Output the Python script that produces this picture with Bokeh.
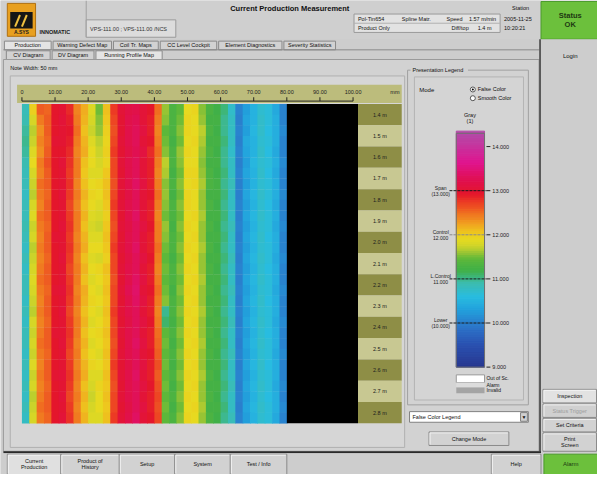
import numpy as np
from bokeh.plotting import figure
from bokeh.models import Range1d, LinearColorMapper, ColumnDataSource
from bokeh.transform import transform
from bokeh.core.properties import value
from bokeh.embed import file_html
from bokeh.resources import INLINE

FONT = "Liberation Sans"

# ---------------- data ----------------
ruler_mm = [0, 10, 20, 30, 40, 50, 60, 70, 80, 90, 100]
ruler_labels = ["0", "10.00", "20.00", "30.00", "40.00", "50.00",
                "60.00", "70.00", "80.00", "90.00", "100.00"]
row_labels = ["1.4 m", "1.5 m", "1.6 m", "1.7 m", "1.8 m", "1.9 m", "2.0 m", "2.1 m",
              "2.2 m", "2.3 m", "2.4 m", "2.5 m", "2.6 m", "2.7 m", "2.8 m"]
legend_ticks = [14, 13, 12, 11, 10, 9]
legend_tick_labels = ["14.000", "13.000", "12.000", "11.000", "10.000", "9.000"]
limit_values = [13, 12, 11, 10]
limit_labels = ["Span\n(13.000)", "Control\n12.000", "L.Control\n11.000", "Lower\n(10.000)"]
limit_colors = ["#1a1a1a", "#8a8a8a", "#1a1a1a", "#1a1a1a"]
scan_width_mm = 80.0
data_end_mm = 101.5
label_end_mm = 114.7
legend_min, legend_max = 9.0, 14.3

values = [
    [10.85,12.00,12.60,12.55,12.95,13.00,12.85,12.40,12.20,11.85,11.50,12.10,12.75,13.05,13.15,13.20,13.05,12.95,12.50,11.60,11.30,11.45,11.90,11.95,11.55,11.30,11.20,11.05,10.75,10.05,10.30,10.50,10.70,10.65,10.40,10.05],
    [10.90,11.80,12.45,12.60,12.95,13.05,12.90,12.45,12.15,11.80,11.55,12.05,12.70,13.00,13.20,13.25,13.05,12.90,12.45,11.55,11.30,11.50,11.95,11.90,11.60,11.25,11.25,11.00,10.80,10.00,10.35,10.50,10.75,10.65,10.45,10.05],
    [10.95,11.70,12.35,12.60,12.95,13.00,12.95,12.50,12.10,11.75,11.60,12.00,12.65,13.00,13.20,13.30,13.10,12.90,12.40,11.45,11.30,11.55,11.95,11.90,11.70,11.30,11.20,11.00,10.80,10.05,10.30,10.55,10.75,10.60,10.45,10.10],
    [11.00,11.75,12.40,12.55,13.00,13.00,12.90,12.45,12.15,11.85,11.70,11.95,12.70,13.05,13.20,13.30,13.05,12.95,12.45,11.50,11.25,11.50,11.90,11.95,11.65,11.25,11.25,11.05,10.80,10.00,10.40,10.50,10.70,10.65,10.45,10.05],
    [10.95,11.85,12.35,12.60,12.95,12.95,12.85,12.40,12.20,11.90,11.75,12.00,12.75,13.00,13.15,13.25,13.10,12.85,12.50,11.55,11.30,11.60,11.95,11.90,11.60,11.30,11.20,11.00,10.75,10.05,10.35,10.50,10.75,10.60,10.40,10.05],
    [10.90,11.90,12.45,12.65,12.95,13.05,12.80,12.45,12.10,11.90,11.80,11.95,12.70,13.05,13.20,13.30,13.05,12.90,12.45,11.70,11.30,11.55,11.90,11.90,11.55,11.25,11.25,11.00,10.80,10.00,10.30,10.55,10.70,10.65,10.45,10.10],
    [10.85,11.80,12.40,12.60,12.95,13.00,12.75,12.45,12.05,11.85,11.85,12.05,12.70,13.00,13.20,13.30,13.05,12.90,12.40,11.65,11.25,11.50,11.95,11.95,11.60,11.30,11.20,11.05,10.80,10.05,10.35,10.50,10.75,10.60,10.40,10.05],
    [10.85,11.75,12.50,12.60,12.95,13.00,12.80,12.40,12.10,11.90,11.95,12.10,12.65,13.05,13.20,13.35,13.10,12.90,12.45,11.55,11.30,11.55,11.90,11.95,11.65,11.30,11.25,11.00,10.85,10.00,10.30,10.50,10.70,10.65,10.45,10.05],
    [10.80,11.70,12.45,12.55,12.95,13.05,12.75,12.45,12.15,11.95,11.90,12.10,12.70,13.00,13.15,13.30,13.05,12.95,12.50,11.60,11.25,11.50,11.95,11.90,11.60,11.25,11.25,11.05,10.80,10.00,10.35,10.55,10.75,10.65,10.45,10.10],
    [10.85,11.80,12.40,12.60,12.95,13.00,12.70,12.40,12.10,11.90,11.85,12.05,12.75,13.05,13.20,13.30,13.05,12.90,12.45,11.55,11.30,11.55,11.95,11.90,11.60,11.30,11.20,11.00,10.80,10.05,10.30,10.50,10.70,10.60,10.40,10.05],
    [10.85,11.85,12.50,12.60,12.95,13.00,12.75,12.45,12.15,11.85,11.80,12.00,12.70,13.00,13.20,13.35,13.05,12.90,12.40,11.50,11.30,11.50,11.90,11.95,11.65,11.25,11.25,11.05,10.80,10.00,10.35,10.55,10.75,10.65,10.45,10.05],
    [10.90,11.75,12.45,12.55,12.95,13.05,12.80,12.45,12.10,11.80,11.75,12.05,12.65,13.05,13.15,13.30,13.10,12.95,12.45,11.60,11.25,11.55,11.95,11.90,11.60,11.30,11.20,11.00,10.85,10.05,10.30,10.50,10.70,10.65,10.40,10.10],
    [10.85,11.80,12.40,12.60,13.00,13.00,12.75,12.40,12.15,11.85,11.85,12.10,12.70,13.00,13.20,13.30,13.05,12.90,12.45,11.55,11.30,11.50,11.90,11.95,11.60,11.25,11.25,11.05,10.80,10.00,10.35,10.55,10.75,10.60,10.45,10.05],
    [10.80,11.70,12.45,12.60,12.95,13.00,12.80,12.45,12.20,11.90,11.90,12.05,12.75,13.05,13.20,13.35,13.05,12.90,12.50,11.50,11.30,11.55,11.95,11.90,11.65,11.30,11.20,11.00,10.80,10.05,10.30,10.50,10.70,10.65,10.45,10.05],
    [10.85,11.75,12.40,12.55,12.95,13.05,12.75,12.40,12.10,11.85,11.80,12.00,12.70,13.00,13.15,13.30,13.10,12.95,12.45,11.45,11.25,11.50,11.90,11.95,11.60,11.25,11.25,11.05,10.85,10.00,10.35,10.55,10.75,10.65,10.40,10.10],
    [10.80,11.80,12.45,12.60,12.95,13.00,12.70,12.45,12.15,11.90,11.95,12.10,12.70,13.05,13.20,13.30,13.05,12.90,12.40,11.50,11.30,11.55,11.95,11.90,11.60,11.30,11.20,11.00,10.80,10.05,10.30,10.50,10.70,10.60,10.45,10.05],
    [10.85,11.85,12.50,12.60,12.95,13.00,12.75,12.45,12.10,11.85,11.90,12.05,12.65,13.00,13.20,13.35,13.10,12.90,12.45,11.45,11.30,11.50,11.90,11.95,11.65,11.25,11.25,11.05,10.80,10.00,10.35,10.55,10.75,10.65,10.45,10.05],
    [10.85,11.80,12.45,12.55,13.00,13.05,12.80,12.40,12.20,11.90,11.85,12.10,12.70,13.05,13.25,13.40,13.05,12.95,12.50,11.50,11.25,11.55,11.95,11.90,11.60,11.30,11.20,11.00,10.85,10.05,10.30,10.50,10.70,10.65,10.40,10.10],
    [10.80,11.75,12.40,12.60,12.95,13.00,12.75,12.45,12.15,11.95,11.90,12.05,12.70,13.00,13.20,13.35,13.10,12.90,12.45,11.55,11.30,11.50,11.90,11.95,11.60,11.25,11.25,11.05,10.80,10.00,10.35,10.55,10.75,10.60,10.45,10.05],
    [10.85,11.70,12.45,12.60,12.95,13.05,12.70,12.40,12.10,11.90,11.85,12.10,12.75,13.05,13.20,13.30,13.05,12.90,12.40,11.00,11.30,11.55,11.95,11.90,11.65,11.30,11.20,11.00,10.80,10.05,10.30,10.50,10.70,10.65,10.45,10.05],
    [10.80,11.80,12.40,12.55,12.95,13.00,12.75,12.45,12.15,11.85,11.90,12.05,12.70,13.00,13.15,13.30,13.10,12.95,12.45,11.10,11.25,11.50,11.90,11.95,11.60,11.25,11.25,11.05,10.85,10.00,10.35,10.55,10.75,10.65,10.40,10.10],
    [10.85,11.75,12.45,12.60,13.00,13.00,12.80,12.45,12.10,11.90,11.95,12.10,12.70,13.05,13.20,13.30,13.05,12.90,12.50,11.45,11.30,11.55,11.95,11.90,11.60,11.30,11.20,11.00,10.80,10.05,10.30,10.50,10.70,10.60,10.45,10.05],
    [10.85,11.80,12.50,12.60,12.95,13.05,12.75,12.40,12.15,11.85,11.90,12.05,12.65,13.00,13.20,13.35,13.10,12.90,12.55,11.50,11.25,11.50,11.90,11.95,11.65,11.25,11.25,11.05,10.80,10.00,10.35,10.55,10.75,10.65,10.45,10.05],
    [10.80,11.75,12.45,12.55,12.95,13.00,12.70,12.45,12.10,11.90,11.85,12.10,12.70,13.05,13.20,13.30,13.05,12.95,12.60,11.45,11.30,11.55,11.95,11.90,11.60,11.30,11.20,11.00,10.85,10.05,10.30,10.50,10.70,10.65,10.40,10.10],
    [10.85,11.85,12.40,12.60,12.95,13.00,12.75,12.40,12.15,11.95,11.90,12.05,12.75,13.00,13.15,13.30,13.10,12.90,12.65,11.50,11.25,11.50,11.90,11.95,11.60,11.25,11.25,11.05,10.80,10.00,10.35,10.55,10.75,10.60,10.45,10.05],
    [10.80,11.75,12.45,12.60,13.00,13.05,12.80,12.45,12.20,11.85,11.85,12.10,12.70,13.05,13.20,13.35,13.05,12.90,12.60,11.45,11.30,11.55,11.95,11.90,11.65,11.30,11.20,11.00,10.80,10.05,10.30,10.50,10.70,10.65,10.45,10.05],
    [10.85,11.80,12.40,12.55,12.95,13.00,12.75,12.40,12.10,11.80,11.95,12.05,12.65,13.00,13.20,13.30,13.10,12.95,12.65,11.50,11.25,11.50,11.90,11.95,11.60,11.25,11.25,11.05,10.85,10.00,10.35,10.55,10.75,10.65,10.40,10.10],
    [10.80,11.70,12.45,12.60,12.95,13.05,12.70,12.45,12.15,11.75,11.90,12.10,12.70,13.05,13.20,13.30,13.05,12.90,12.70,11.45,11.30,11.55,11.95,11.90,11.60,11.30,11.20,11.00,10.80,10.05,10.30,10.50,10.70,10.60,10.45,10.05],
    [10.85,11.75,12.50,12.60,12.95,13.00,12.75,12.40,12.10,11.80,11.90,12.05,12.70,13.00,13.15,13.30,13.10,12.90,12.65,11.50,11.25,11.50,11.90,11.95,11.65,11.25,11.25,11.05,10.80,10.00,10.35,10.55,10.75,10.65,10.45,10.10],
    [10.80,11.80,12.45,12.55,12.95,13.05,12.80,12.45,12.15,11.85,11.85,12.10,12.75,13.05,13.20,13.35,13.05,12.95,12.70,11.45,11.30,11.55,11.95,11.90,11.60,11.30,11.20,11.00,10.85,10.05,10.30,10.50,10.70,10.65,10.40,10.05],
]

# ---------------- colour scale ----------------
stops = [(9.0, "#27378f"), (9.5, "#2a50b0"), (9.9, "#2c74c8"), (10.3, "#22a0dc"),
         (10.6, "#28bce0"), (10.9, "#3cbcb0"), (11.2, "#40b048"), (11.45, "#5cb83a"),
         (11.6, "#98c434"), (11.75, "#cdd42a"), (11.9, "#e6da20"), (12.05, "#eec81e"),
         (12.25, "#f0a420"), (12.5, "#f07020"), (12.75, "#ec3c24"), (12.95, "#e4162c"),
         (13.25, "#e01050"), (13.65, "#e0148e"), (14.3, "#b44aa8")]


def _rgb(h):
    return [int(h[i:i + 2], 16) for i in (1, 3, 5)]


sv = np.array([s[0] for s in stops])
sc = np.array([_rgb(s[1]) for s in stops])
grid = np.linspace(legend_min, legend_max, 256)
palette = []
for g in grid:
    r, gg, b = (int(round(np.interp(g, sv, sc[:, k]))) for k in range(3))
    palette.append("#%02x%02x%02x" % (r, gg, b))
mapper = LinearColorMapper(palette=palette, low=legend_min, high=legend_max)

# ---------------- figure ----------------
p = figure(width=597, height=474, x_range=Range1d(0, 613), y_range=Range1d(490, 0),
           output_backend="svg", toolbar_location=None, min_border=0,
           x_axis_location=None, y_axis_location=None)
p.outline_line_color = None
p.background_fill_color = "#cdcdcd"
p.border_fill_color = "#cdcdcd"
p.xgrid.visible = False
p.ygrid.visible = False

# scales for the heatmap (mm across, rows down) and the legend (value)
p.extra_x_ranges = {"mm": Range1d(-22 / 3.4, (613 - 22) / 3.4)}
p.extra_y_ranges = {"row": Range1d((490 - 107) / 11.0, -107 / 11.0),
                    "leg": Range1d(9 - (490 - 379) / 45.6, 9 + 379 / 45.6)}


def box(l, t, r, b, fill, line="#8c8c8c", lw=1, **kw):
    p.quad(left=[l], right=[r], top=[t], bottom=[b], fill_color=fill,
           line_color=line, line_width=lw, **kw)


def seg(x0, y0, x1, y1, color="#000000", width=1, dash="solid", **kw):
    p.segment(x0=[x0], y0=[y0], x1=[x1], y1=[y1], line_color=color,
              line_width=width, line_dash=dash, **kw)


def txt(x, y, s, size=6.5, align="left", baseline="middle", color="#111111",
        bold=False, **kw):
    p.text(x=[x], y=[y], text=[s], text_font=value(FONT),
           text_font_size="%spx" % size, text_align=align, text_baseline=baseline,
           text_color=color, text_font_style="bold" if bold else "normal",
           text_line_height=1.0, **kw)


def button(l, t, r, b, label, fill="#d2d2d2", color="#111111", size=6, bold=False):
    box(l, t, r, b, fill, line="#8a8a8a")
    seg(l + 1, t + 1, r - 1, t + 1, "#f4f4f4")
    seg(l + 1, t + 1, l + 1, b - 1, "#f4f4f4")
    txt((l + r) / 2, (t + b) / 2, label, size=size, align="center", color=color, bold=bold)


# ---------------- header ----------------
box(0, 0, 555, 40, "#cfcfcf", line=None)
seg(88, 0, 88, 38, "#a0a0a0")
# logo
box(7, 3, 36, 37, "#e8a020", line="#b07010")
box(10, 12, 33, 29, "#161616", line=None)
seg(15, 27, 20, 15, "#f0c040", width=2)
seg(22, 27, 27, 15, "#f0c040", width=2)
txt(21.5, 33, "A.SYS", size=5, align="center", color="#202020", bold=True)
txt(40, 33, "INNOMATIC", size=5.5, bold=True, color="#1a1a1a")
txt(297, 8, "Current Production Measurement", size=7.5, align="center", bold=True)
box(88, 20, 180, 38, "#dcdcdc", line="#9a9a9a")
txt(92, 29, "VPS-111.00 ; VPS-111.00 /NCS", size=5.5, color="#333333")
box(363, 14, 513, 33, "#e2e2e2", line="#9a9a9a")
seg(363, 23.5, 513, 23.5, "#b0b0b0")
txt(367, 19, "Pol-Tin654", size=5.5)
txt(412, 19, "Spline  Matr.", size=5.5)
txt(458, 19, "Speed", size=5.5)
txt(481, 19, "1.57 m/min", size=5.5)
txt(367, 28.5, "Product Only", size=5.5)
txt(463, 28.5, "Diff/top", size=5.5)
txt(490, 28.5, "1.4 m", size=5.5)
txt(534, 8, "Station", size=5.5, align="center")
txt(517, 19, "2005-11-25", size=5.5)
txt(517, 28.5, "10:20:21", size=5.5)
box(555, 1, 613, 40, "#6cc03c", line="#4a9a2a")
txt(585, 20.5, "Status\nOK", size=7.5, align="center", bold=True, color="#1e3a12")

# ---------------- tabs ----------------
tabs = [("Production", 4, 52), ("Warning Defect Map", 54, 114), ("Coil Tr. Maps", 116, 162),
        ("CC Level Cockpit", 164, 222), ("Element Diagnostics", 224, 289),
        ("Severity Statistics", 291, 344)]
for i, (lab, l, r) in enumerate(tabs):
    box(l, 42, r, 51, "#e4e4e4" if i == 0 else "#d2d2d2", line="#8a8a8a")
    txt((l + r) / 2, 46.5, lab, size=5.5, align="center")
seg(3, 51, 553, 51, "#8a8a8a")
subtabs = [("CV Diagram", 6, 51), ("DV Diagram", 53, 96), ("Running Profile Map", 98, 166)]
for i, (lab, l, r) in enumerate(subtabs):
    box(l, 52, r, 61, "#e4e4e4" if i == 2 else "#d2d2d2", line="#8a8a8a")
    txt((l + r) / 2, 56.5, lab, size=5.5, align="center")

# ---------------- main panel ----------------
box(3, 61, 553, 466, "#d2d2d2", line="#9a9a9a")
seg(3, 467, 555, 467, "#2a2a2a", width=2)
txt(10, 70, "Note Width:  50 mm", size=5.5)
box(10, 78, 415, 462, "#d6d6d6", line="#b0b0b0")
box(17, 87, 412, 106, "#bcbc7c", line=None)

# ruler (mm scale)
p.segment(x0=[ruler_mm[0]], x1=[ruler_mm[-1]], y0=104, y1=104, line_color="#222222",
          line_width=1, x_range_name="mm")
p.segment(x0=ruler_mm, x1=ruler_mm, y0=100, y1=104, line_color="#222222",
          line_width=1, x_range_name="mm")
p.text(x=ruler_mm, y=[95] * len(ruler_mm), text=ruler_labels, x_range_name="mm",
       text_font=value(FONT), text_font_size="5.5px", text_align="center",
       text_baseline="middle", text_color="#222222")
txt(405, 95, "mm", size=5.5, align="center", color="#222222")

# heatmap
nrow = len(values)
ncol = len(values[0])
cw = scan_width_mm / ncol
xs, ys, vs = [], [], []
for i, row in enumerate(values):
    for j, v in enumerate(row):
        xs.append((j + 0.5) * cw)
        ys.append(i + 0.5)
        vs.append(v)
src = ColumnDataSource(dict(x=xs, y=ys, v=vs))
p.rect(x="x", y="y", width=cw, height=1, source=src, fill_color=transform("v", mapper),
       line_color=None, dilate=True, x_range_name="mm", y_range_name="row")
# no-data zone
p.quad(left=[scan_width_mm], right=[data_end_mm], top=[0], bottom=[nrow],
       fill_color="#000000", line_color=None, x_range_name="mm", y_range_name="row")
# row label stripes
st_top = [2 * k for k in range(len(row_labels))]
st_bot = [2 * k + 2 for k in range(len(row_labels))]
st_col = ["#8e8e46" if k % 2 == 0 else "#c8c892" for k in range(len(row_labels))]
p.quad(left=data_end_mm, right=label_end_mm, top=st_top, bottom=st_bot, fill_color=st_col,
       line_color=None, x_range_name="mm", y_range_name="row")
p.text(x=[(data_end_mm + label_end_mm) / 2] * len(row_labels),
       y=[2 * k + 1 for k in range(len(row_labels))], text=row_labels,
       x_range_name="mm", y_range_name="row", text_font=value(FONT),
       text_font_size="5.5px", text_align="center", text_baseline="middle",
       text_color="#202020")

# ---------------- legend ----------------
box(418, 72, 542, 418, None, line="#a0a0a0")
box(425, 79, 537, 413, "#d4d4d4", line="#b4b4b4")
box(421, 69, 480, 75, "#d2d2d2", line=None)
txt(423, 72, "Presentation Legend", size=5.5)
txt(430, 93, "Mode", size=6)
p.scatter(x=[485, 485], y=[92, 101], size=5, fill_color="#ffffff", line_color="#555555")
p.scatter(x=[485], y=[92], size=2, fill_color="#000000", line_color=None)
txt(490, 92, "False Color", size=5.5)
txt(490, 101, "Smooth Color", size=5.5)
txt(482, 121, "Gray\n(1)", size=5.5, align="center")

steps = np.arange(legend_min, legend_max, 0.05)
leg_src = ColumnDataSource(dict(b=steps, t=steps + 0.05, v=steps + 0.025))
p.quad(left=468, right=497, bottom="b", top="t", source=leg_src,
       fill_color=transform("v", mapper), line_color=transform("v", mapper),
       y_range_name="leg")
p.quad(left=[468], right=[497], bottom=[legend_min], top=[legend_max], fill_color=None,
       line_color="#707070", y_range_name="leg")
p.segment(x0=499, x1=503, y0=legend_ticks, y1=legend_ticks, line_color="#222222",
          y_range_name="leg")
p.text(x=[505] * len(legend_ticks), y=legend_ticks, text=legend_tick_labels,
       y_range_name="leg", text_font=value(FONT), text_font_size="5.5px",
       text_align="left", text_baseline="middle", text_color="#222222")
p.segment(x0=[461] * len(limit_values), x1=[499] * len(limit_values), y0=limit_values,
          y1=limit_values, line_color=limit_colors, line_dash="3 1", line_width=1,
          y_range_name="leg")
p.text(x=[452] * len(limit_values), y=limit_values, text=limit_labels, y_range_name="leg",
       text_font=value(FONT), text_font_size="5px", text_align="center",
       text_baseline="middle", text_color="#222222", text_line_height=1.0)

box(468, 387, 497, 395, "#ffffff", line="#9a9a9a")
box(468, 395, 497, 400, "#dcdcdc", line=None)
box(468, 400, 497, 406, "#a4a4a4", line=None)
txt(499, 390, "Out of Sc.", size=5)
txt(499, 397, "Alarm", size=5)
txt(499, 403, "Invalid", size=5)

box(420, 425, 542, 436, "#ffffff", line="#808080")
txt(423, 430.5, "False Color Legend", size=5.5)
box(534, 426, 541, 435, "#d0d0d0", line="#808080")
txt(537.5, 430.5, "\u25bc", size=5, align="center")
button(440, 446, 522, 460, "Change Mode", size=5.5)

# ---------------- right column ----------------
box(555, 40, 613, 467, "#cdcdcd", line=None)
seg(554, 40, 554, 467, "#3a3a3a", width=1.5)
txt(585, 57, "Login", size=6, align="center")
button(557, 402, 612, 416, "Inspection", fill="#e2e2e2", size=5.5)
button(557, 417, 612, 431, "Status Trigger", fill="#d0d0d0", color="#9c9c9c", size=5.5)
button(557, 432, 612, 446, "Set Criteria", size=5.5)
button(557, 447, 612, 466, "Print\nScreen", size=5.5)

# ---------------- bottom bar ----------------
box(0, 468, 613, 490, "#cdcdcd", line=None)
bottom = [("Current\nProduction", 7, 62, "#e0e0e0"), ("Product of\nHistory", 62, 122, "#d2d2d2"),
          ("Setup", 122, 179, "#d2d2d2"), ("System", 179, 236, "#d2d2d2"),
          ("Test / Info", 236, 294, "#d2d2d2"), ("Help", 504, 555, "#d2d2d2")]
for lab, l, r, f in bottom:
    button(l, 469, r, 490, lab, fill=f, size=5.5)
box(558, 469, 613, 490, "#6cc03c", line="#4a9a2a")
txt(585.5, 479.5, "Alarm", size=6, align="center", color="#1e3a12")

open("out.html", "w").write(file_html(p, INLINE))
